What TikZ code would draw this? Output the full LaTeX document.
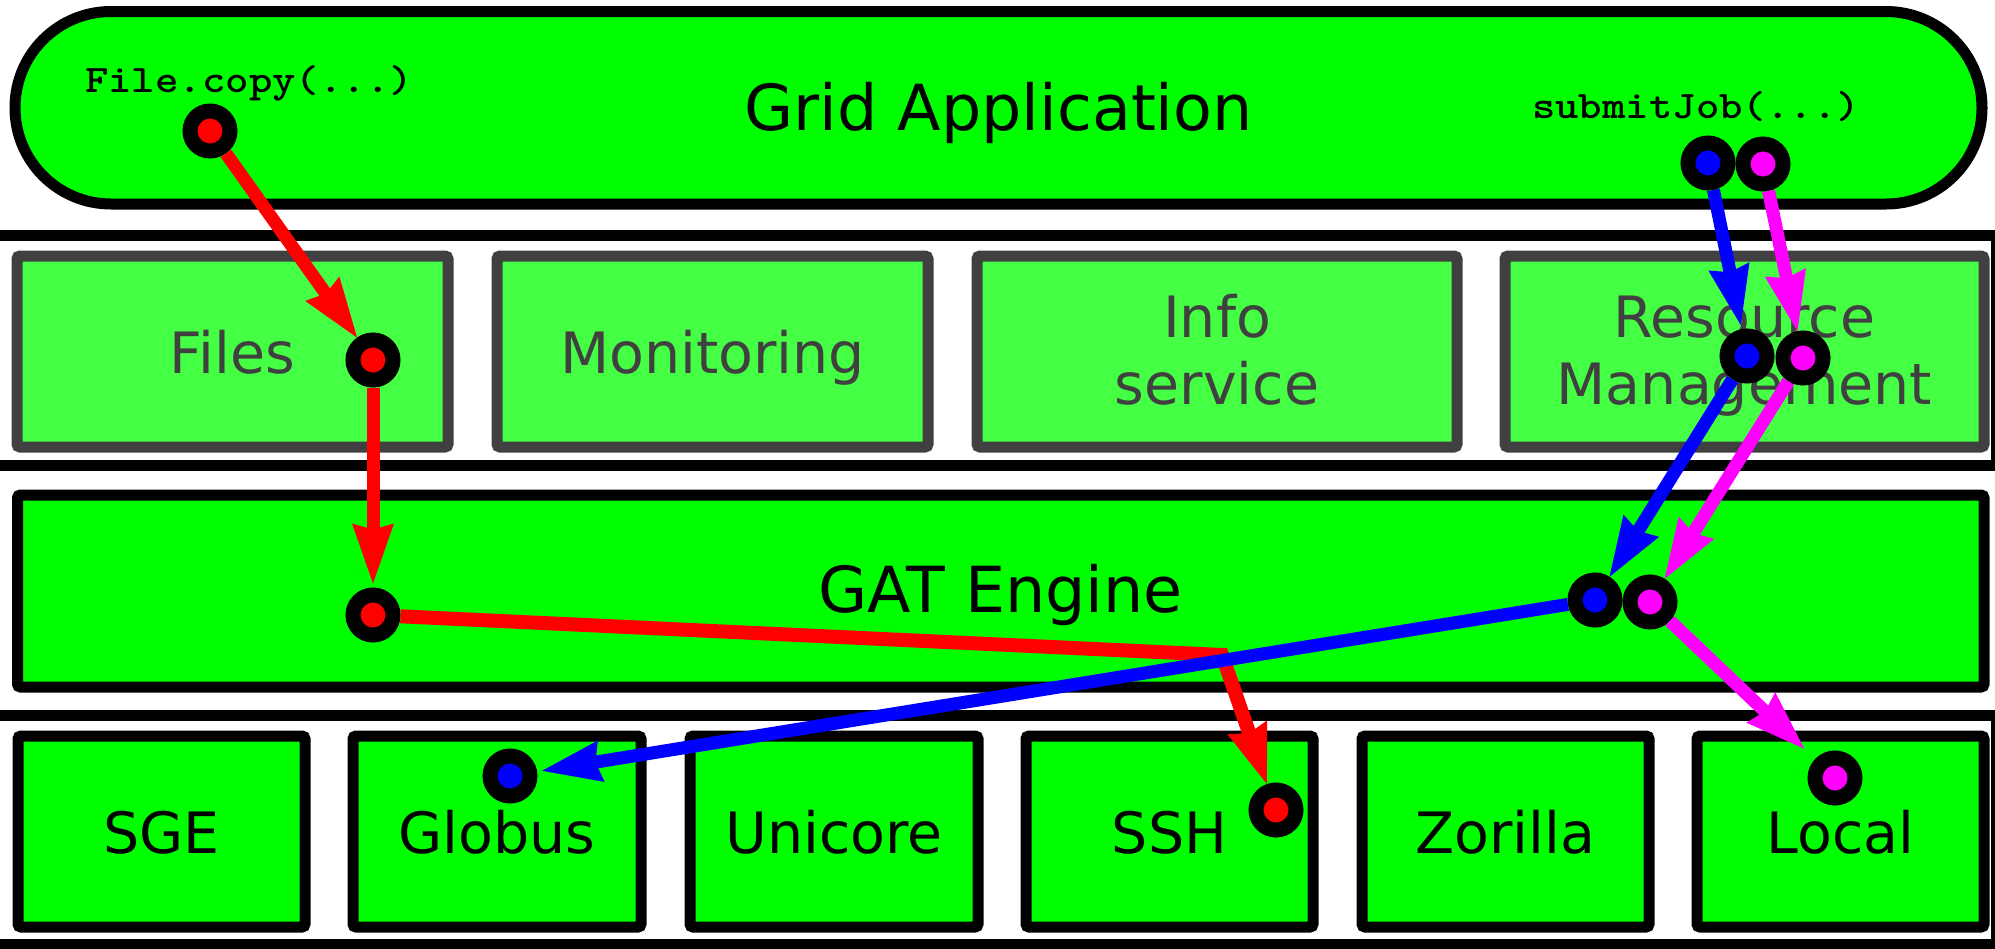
\documentclass[tikz,border=0pt]{standalone}
\usepackage{fontspec}
\setmainfont{DejaVu Sans}
\usepackage{graphicx}
\usetikzlibrary{arrows.meta}
\definecolor{lgreen}{HTML}{44FF44}
\definecolor{dgray}{HTML}{404040}
\definecolor{pgreen}{HTML}{00FF00}
\definecolor{pred}{HTML}{FF0000}
\definecolor{pblue}{HTML}{0000FF}
\definecolor{pmag}{HTML}{FF00FF}
\newcommand{\twoline}[2]{\vtop{\baselineskip=67pt\lineskiplimit=-200pt\hbox to 0pt{\hss #1\hss}\hbox to 0pt{\hss #2\hss}}}
\begin{document}
\begin{tikzpicture}[x=1pt,y=-1pt,
  layerline/.style={draw=black, line width=11pt},
  bigbox/.style={draw=black, fill=pgreen, line width=11pt, inner sep=0pt, text depth=0pt,
    font={\fontsize{63.5pt}{70pt}\selectfont}},
  appbox/.style={bigbox, rounded corners=96pt, text height=44.5pt},
  enginebox/.style={bigbox, rounded corners=3pt, text height=43pt},
  svcbox/.style={draw=dgray, fill=lgreen, text=dgray, line width=11pt, rounded corners=3pt,
    inner sep=0pt, minimum height=191pt, text height=43pt, text depth=0pt,
    font={\fontsize{57pt}{67pt}\selectfont}},
  svctwo/.style={svcbox, text height=20pt, text depth=48pt},
  adpbox/.style={draw=black, fill=pgreen, line width=11pt, rounded corners=3pt,
    inner sep=0pt, minimum height=191pt, text height=43pt, text depth=0pt,
    font={\fontsize{57pt}{67pt}\selectfont}},
  code/.style={inner sep=0pt, anchor=base, font={\fontsize{39pt}{39pt}\selectfont\ttfamily\bfseries}},
  dot/.style={circle, draw=black, line width=15pt, minimum size=40pt, inner sep=0pt},
  conn/.style={line width=13pt, -{Stealth[length=60pt,width=42pt,inset=6pt,line width=0pt]}}
]
\useasboundingbox (0,0) rectangle (1995,948);

% layer frames
\draw[layerline] (-20,235) rectangle (1996,465);
\draw[layerline] (-20,715) rectangle (1996,944.5);

% Grid application
\node[appbox, minimum width=1967pt, minimum height=192.5pt] (app) at (998.5,107.75) {Grid Application};
\node[code] (copylbl) at (249,92) {\scalebox{1.144}[1]{File.copy(...)}};
\node[code] (submitlbl) at (1696,118) {\scalebox{1.144}[1]{submitJob(...)}};

% services layer
\node[svcbox, minimum width=431pt] (files) at (232.5,351.5) {Files};
\node[svcbox, minimum width=431pt] (monitoring) at (712.5,351.5) {Monitoring};
\node[svctwo, minimum width=480pt] (info) at (1217,351.5) {\twoline{Info}{service}};
\node[svctwo, minimum width=479pt] (resmgmt) at (1744.5,351.5) {\twoline{Resource}{Management}};

% GAT engine
\node[enginebox, minimum width=1966.5pt, minimum height=192pt] (engine) at (1000.75,591) {GAT Engine};

% adaptors layer
\node[adpbox, minimum width=287pt] (sge) at (161.5,831.5) {SGE};
\node[adpbox, minimum width=288pt] (globus) at (497,831.5) {Globus};
\node[adpbox, minimum width=288pt] (unicore) at (834,831.5) {Unicore};
\node[adpbox, minimum width=287pt] (ssh) at (1169.5,831.5) {SSH};
\node[adpbox, minimum width=287pt] (zorilla) at (1505.5,831.5) {Zorilla};
\node[adpbox, minimum width=287pt] (local) at (1840.5,831.5) {Local};

% dots
\node[dot, fill=pred] (r1) at (210,131) {};
\node[dot, fill=pred] (r2) at (373,360) {};
\node[dot, fill=pred] (r3) at (373,615) {};
\node[dot, fill=pred] (r4) at (1276,810) {};
\node[dot, fill=pblue] (b1) at (1708,163) {};
\node[dot, fill=pblue] (b2) at (1747,356) {};
\node[dot, fill=pblue] (b3) at (1595,600) {};
\node[dot, fill=pblue] (b4) at (510,776) {};
\node[dot, fill=pmag] (m1) at (1763,164) {};
\node[dot, fill=pmag] (m2) at (1803,358) {};
\node[dot, fill=pmag] (m3) at (1650,602) {};
\node[dot, fill=pmag] (m4) at (1835,778) {};

% connectors
\coordinate (rbend) at (1222,655);
\draw[conn, pred] (r1) -- (r2);
\draw[conn, pred, shorten >=4pt] (r2) -- (r3);
\draw[conn, pred, line width=14pt] (r3) -- (rbend) -- (r4);
\draw[conn, pblue, shorten >=4pt] (b1) -- (b2);
\draw[conn, pmag] (m1) -- (m2);
\draw[conn, pblue] (b2) -- (b3);
\draw[conn, pmag] (m2) -- (m3);
\draw[conn, pblue, shorten >=5pt] (b3) -- (b4);
\draw[conn, pmag, shorten >=15pt] (m3) -- (m4);
\end{tikzpicture}
\end{document}
